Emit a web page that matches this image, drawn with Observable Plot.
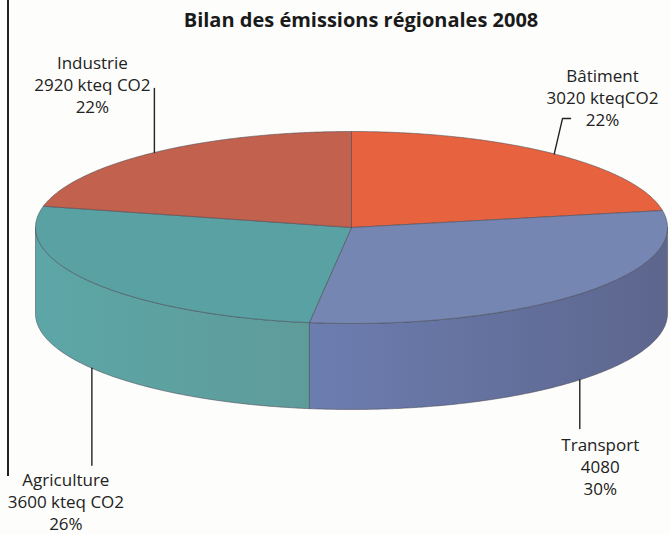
<!DOCTYPE html>
<html>
<head>
<meta charset="utf-8">
<script src="https://cdn.jsdelivr.net/npm/d3@7"></script>
<script src="https://cdn.jsdelivr.net/npm/@observablehq/plot@0.6"></script>
<style>
  html, body { margin: 0; padding: 0; background: #fdfdfb; }
  #wrap { position: relative; width: 670px; height: 534px; overflow: hidden; }
  #frame { position: absolute; left: 7px; top: 0; width: 1.5px; height: 476px; background: #222; }
  #title { height: 40px; line-height: 40px; padding-left: 52px; width: 618px; text-align: center;
           font-family: "Open Sans", sans-serif; font-weight: 700; font-size: 20px; color: #1a1a1a; }
  #chart svg { display: block; }
</style>
</head>
<body>
<div id="wrap">
  <div id="frame"></div>
  <div id="title">Bilan des émissions régionales 2008</div>
  <div id="chart"></div>
</div>
<script>
// ---- data ----
const categories = ["Bâtiment", "Transport", "Agriculture", "Industrie"];
const emissions = [3020, 4080, 3600, 2920];
const unitLabels = [" kteqCO2", "", " kteq CO2", " kteq CO2"];
const percentLabels = ["22%", "30%", "26%", "22%"];
const topColors = ["#e7623f", "#7686b3", "#5aa1a4", "#c1614e"];
const sideColorsLeft = ["#d0573a", "#6c7db0", "#5da6a7", "#ad5644"];
const sideColorsRight = ["#c04e33", "#5d668d", "#5e9c9a", "#9e4e3e"];

// ---- layout (pixels) ----
const W = 670, H = 494;
const CX = 351, CY = 187, RX = 316, RY = 96, DEPTH = 86;
// label layout: leader polyline offsets and text offset, relative to the rim anchor (pixels)
const labelLayout = {
  "Industrie":   {leader: [[0, 0], [0, -64]], text: [-62, -99]},
  "Bâtiment":    {leader: [[0, 0], [8.3, -35.4], [16.3, -35.4]], text: [48.3, -87.5]},
  "Transport":   {leader: [[0, 0], [0, 48.7]], text: [20.5, 55.6]},
  "Agriculture": {leader: [[0, 0], [0, 97]], text: [-26, 102]}
};

const tilt = RY / RX, dep = DEPTH / RX;
const data = categories.map((c, i) => ({
  category: c, value: emissions[i],
  label: `${c}\n${emissions[i]}${unitLabels[i]}\n${percentLabels[i]}`,
  top: topColors[i], i
}));
const arcs = d3.pie().sort(null).value(d => d.value)(data);

const pt = (a, lower) => ({x: Math.sin(a), y: Math.cos(a) * tilt - (lower ? dep : 0)});
const arcPts = (a0, a1, lower) => {
  const n = Math.max(2, Math.ceil(Math.abs(a1 - a0) / (Math.PI / 360)));
  return d3.range(n + 1).map(k => pt(a0 + (a1 - a0) * k / n, lower));
};

const topPts = [], sidePts = [], leaderPts = [], textPts = [];
for (const a of arcs) {
  const d = a.data;
  const poly = [{x: 0, y: 0}, ...arcPts(a.startAngle, a.endAngle, false), {x: 0, y: 0}];
  poly.forEach(p => topPts.push({...p, slice: d.category, fill: d.top}));
  const s0 = Math.max(a.startAngle, Math.PI / 2), s1 = Math.min(a.endAngle, 3 * Math.PI / 2);
  if (s0 < s1) {
    const side = [...arcPts(s0, s1, false), ...arcPts(s1, s0, true)];
    side.push(side[0]);
    side.forEach(p => sidePts.push({...p, slice: d.category, fill: `url(#side-${d.i})`}));
  }
  const mid = (a.startAngle + a.endAngle) / 2;
  const anchor = pt(mid, Math.cos(mid) < 0);
  const lay = labelLayout[d.category];
  lay.leader.forEach(([dx, dy]) => leaderPts.push({x: anchor.x + dx / RX, y: anchor.y - dy / RX, slice: d.category}));
  textPts.push({x: anchor.x + lay.text[0] / RX, y: anchor.y - lay.text[1] / RX, label: d.label});
}

const plot = Plot.plot({
  width: W, height: H, margin: 0,
  x: {domain: [-CX / RX, (W - CX) / RX], axis: null},
  y: {domain: [(CY - H) / RX, CY / RX], axis: null},
  color: {type: "identity"},
  style: {background: "transparent", overflow: "visible"},
  marks: [
    Plot.line(sidePts, {x: "x", y: "y", z: "slice", fill: "fill", stroke: "#4a4a55", strokeWidth: 0.7, strokeOpacity: 0.8}),
    Plot.line(topPts, {x: "x", y: "y", z: "slice", fill: "fill", stroke: "#4a4a55", strokeWidth: 0.7, strokeOpacity: 0.8}),
    Plot.line(leaderPts, {x: "x", y: "y", z: "slice", stroke: "#222", strokeWidth: 1.4}),
    Plot.text(textPts, {x: "x", y: "y", text: "label", lineAnchor: "top", textAnchor: "middle",
      fontSize: 17, lineHeight: 1.3, fontFamily: "Open Sans, sans-serif", fill: "#222"})
  ]
});

// side gradients
const ns = "http://www.w3.org/2000/svg";
const defs = document.createElementNS(ns, "defs");
categories.forEach((c, i) => {
  const g = document.createElementNS(ns, "linearGradient");
  g.setAttribute("id", `side-${i}`);
  g.setAttribute("x1", "0"); g.setAttribute("x2", "1"); g.setAttribute("y1", "0"); g.setAttribute("y2", "0");
  [[0, sideColorsLeft[i]], [1, sideColorsRight[i]]].forEach(([o, col]) => {
    const s = document.createElementNS(ns, "stop");
    s.setAttribute("offset", o); s.setAttribute("stop-color", col);
    g.appendChild(s);
  });
  defs.appendChild(g);
});
plot.insertBefore(defs, plot.firstChild);
document.getElementById("chart").appendChild(plot);
</script>
</body>
</html>
